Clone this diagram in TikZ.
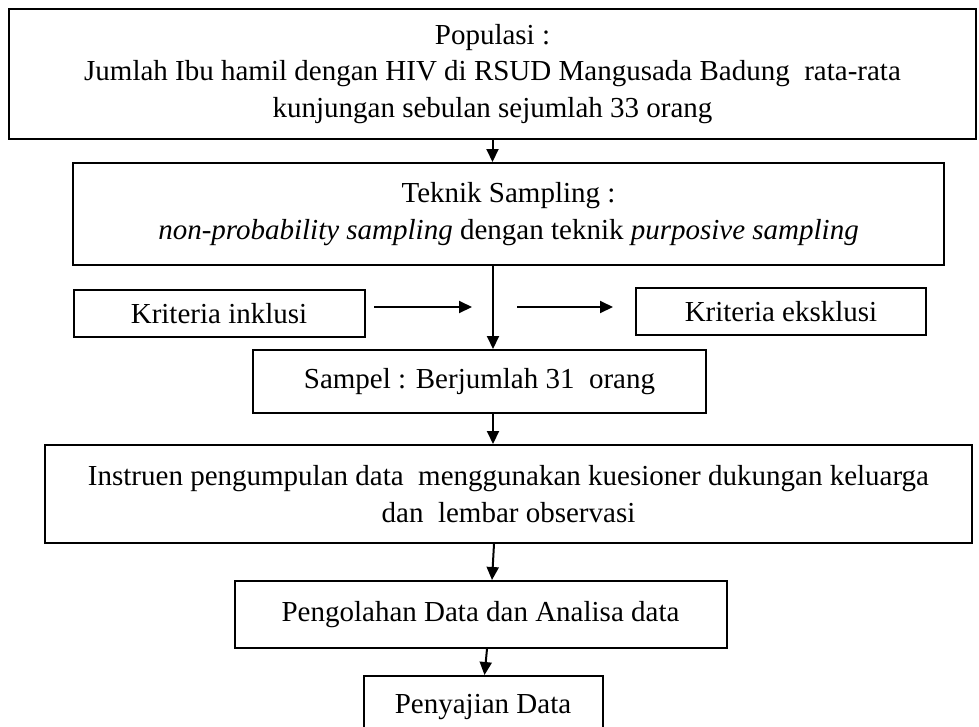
\documentclass[tikz,border=0pt]{standalone}
\usepackage{fontspec}
\setmainfont{Liberation Serif}
\usetikzlibrary{arrows.meta}
\begin{document}
\begin{tikzpicture}[x=1pt,y=-1pt,
  box/.style={draw, line width=2pt, inner sep=0pt, align=center,
    font=\fontsize{29}{36.5}\selectfont},
  arr/.style={line width=2pt, -{Triangle[length=13pt,width=12pt]}}]
\useasboundingbox (0,0) rectangle (979,726);
\fill[white] (0,0) rectangle (979,726);
% boxes
\node[box, line width=2.8pt, minimum width=967pt, minimum height=130pt] (pop) at (492.5,74)
  {Populasi :\\Jumlah Ibu hamil dengan HIV di RSUD Mangusada Badung\ \ rata-rata\\kunjungan sebulan sejumlah 33 orang};
\node[box, minimum width=871pt, minimum height=102pt] (ts) at (508.5,214)
  {Teknik Sampling :\\\textit{non-probability sampling} dengan teknik \textit{purposive sampling}};
\node[box, minimum width=291pt, minimum height=47pt] (inkl) at (219,313.5) {Kriteria inklusi};
\node[box, minimum width=290pt, minimum height=47pt] (eksk) at (781,311.5) {Kriteria eksklusi};
\node[box, minimum width=453pt, minimum height=63pt] (sam) at (479.5,381.5) {Sampel : Berjumlah 31\ \ orang};
\node[box, minimum width=927pt, minimum height=98pt] (ins) at (508.5,494)
  {Instruen pengumpulan data\ \ menggunakan kuesioner dukungan keluarga\\dan\ \ lembar observasi};
\node[box, minimum width=492pt, minimum height=67pt] (pen) at (480.5,614.5) {Pengolahan Data dan Analisa data};
\node[box, minimum width=239pt, minimum height=62pt] (saj) at (483,707) {Penyajian Data};
% connector helpers
\coordinate (c0) at (492.5,0);
\coordinate (c1) at (493,0);
\coordinate (c2) at (494,0);
\coordinate (c3) at (492,0);
\coordinate (c4) at (487,0);
\coordinate (c5) at (484.5,0);
\coordinate (i1) at (374,307);
\coordinate (i2) at (472,307);
\coordinate (e1) at (517,307);
\coordinate (e2) at (613,307);
% connectors
\draw[arr] (pop.south -| c0) -- (ts.north -| c0);
\draw[arr] (ts.south -| c1) -- (sam.north -| c1);
\draw[arr] (i1) -- (i2);
\draw[arr] (e1) -- (e2);
\draw[arr] (sam.south -| c1) -- (ins.north -| c1);
\draw[arr] (ins.south -| c2) -- (pen.north -| c3);
\draw[arr] (pen.south -| c4) -- (saj.north -| c5);
\end{tikzpicture}
\end{document}
